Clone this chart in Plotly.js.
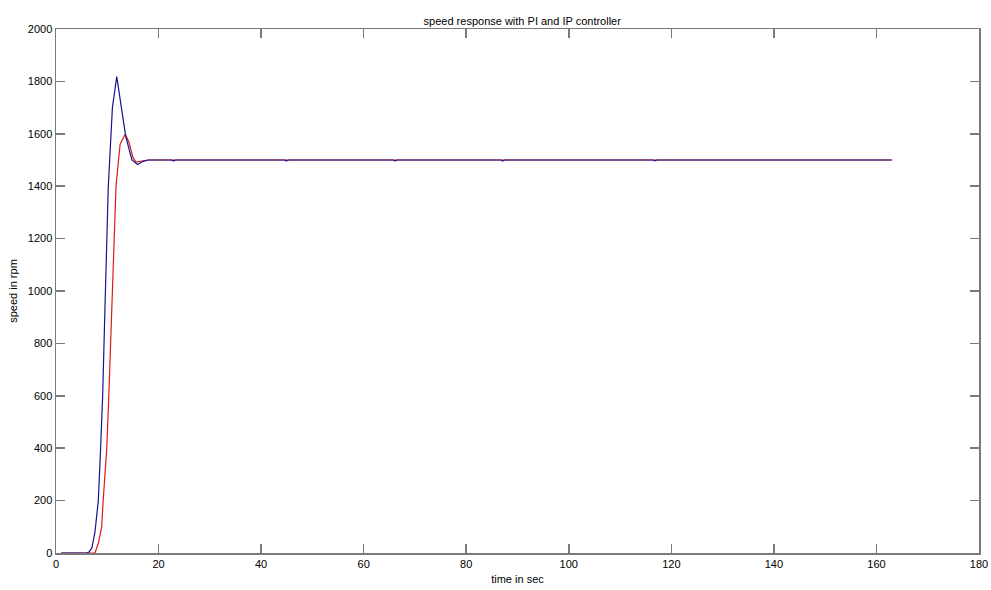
<!DOCTYPE html>
<html>
<head>
<meta charset="utf-8">
<script src="https://cdn.plot.ly/plotly-3.0.1.min.js"></script>
<style>html,body{margin:0;padding:0;background:#fff;}#chart{width:991px;height:590px;}</style>
</head>
<body>
<div id="chart"></div>
<script>
// IP controller response (blue)
const tBlue = [1, 3, 6, 6.5, 7, 7.6, 8.25, 8.7, 9.1, 9.5, 10.2, 11, 11.85, 12.6, 13.6, 14.8, 15.9, 17, 18, 22.6, 22.9, 23.3, 44.6, 44.9, 45.3, 65.8, 66.1, 66.5, 86.8, 87.1, 87.5, 116.5, 116.8, 117.2, 163];
const vBlue = [0, 0, 0, 5, 20, 80, 200, 400, 600, 900, 1400, 1700, 1818, 1720, 1590, 1500, 1483, 1495, 1500, 1500, 1496, 1500, 1500, 1496, 1500, 1500, 1496, 1500, 1500, 1496, 1500, 1500, 1497, 1500, 1500];
// PI controller response (red)
const tRed = [1, 5, 7.6, 8.3, 8.9, 9.2, 9.9, 10.3, 10.8, 11.7, 12.5, 13.5, 14.2, 15, 15.6, 16.5, 18, 163];
const vRed = [0, 0, 0, 40, 100, 200, 400, 600, 900, 1400, 1560, 1598, 1570, 1510, 1492, 1496, 1500, 1500];

const xTicks = [0, 20, 40, 60, 80, 100, 120, 140, 160, 180];
const yTicks = [0, 200, 400, 600, 800, 1000, 1200, 1400, 1600, 1800, 2000];

const traces = [
  {x: tRed, y: vRed, type: 'scatter', mode: 'lines', line: {color: '#e01818', width: 1.2}, name: 'PI'},
  {x: tBlue, y: vBlue, type: 'scatter', mode: 'lines', line: {color: '#14148c', width: 1.2}, name: 'IP'}
];

const font = {family: 'Liberation Sans, Arial, sans-serif', size: 11, color: '#000'};
const layout = {
  width: 991, height: 590,
  margin: {l: 56, r: 12, t: 29, b: 37},
  paper_bgcolor: '#fff', plot_bgcolor: '#fff',
  showlegend: false,
  font: font,
  title: {text: 'speed response with PI and IP controller', font: {family: font.family, size: 11, color: '#000'}, x: 0.527, xanchor: 'center', y: 0.965, yanchor: 'middle'},
  xaxis: {
    range: [0, 180], tickvals: xTicks, ticktext: xTicks.map(String),
    showgrid: false, zeroline: false,
    showline: true, mirror: 'allticks', linecolor: '#7a7a7a', linewidth: 1.5,
    ticks: 'inside', ticklen: 9, tickcolor: '#7a7a7a', tickwidth: 1.5,
    tickfont: font,
    title: {text: 'time in sec', font: font, standoff: 6}
  },
  yaxis: {
    range: [0, 2000], tickvals: yTicks, ticktext: yTicks.map(String),
    showgrid: false, zeroline: true, zerolinecolor: '#000', zerolinewidth: 1.5,
    showline: true, mirror: 'allticks', linecolor: '#7a7a7a', linewidth: 1.5,
    ticks: 'inside', ticklen: 9, tickcolor: '#7a7a7a', tickwidth: 1.5,
    tickfont: font,
    title: {text: 'speed in rpm', font: font, standoff: 8}
  }
};
Plotly.newPlot('chart', traces, layout, {displayModeBar: false, staticPlot: true});
</script>
</body>
</html>
